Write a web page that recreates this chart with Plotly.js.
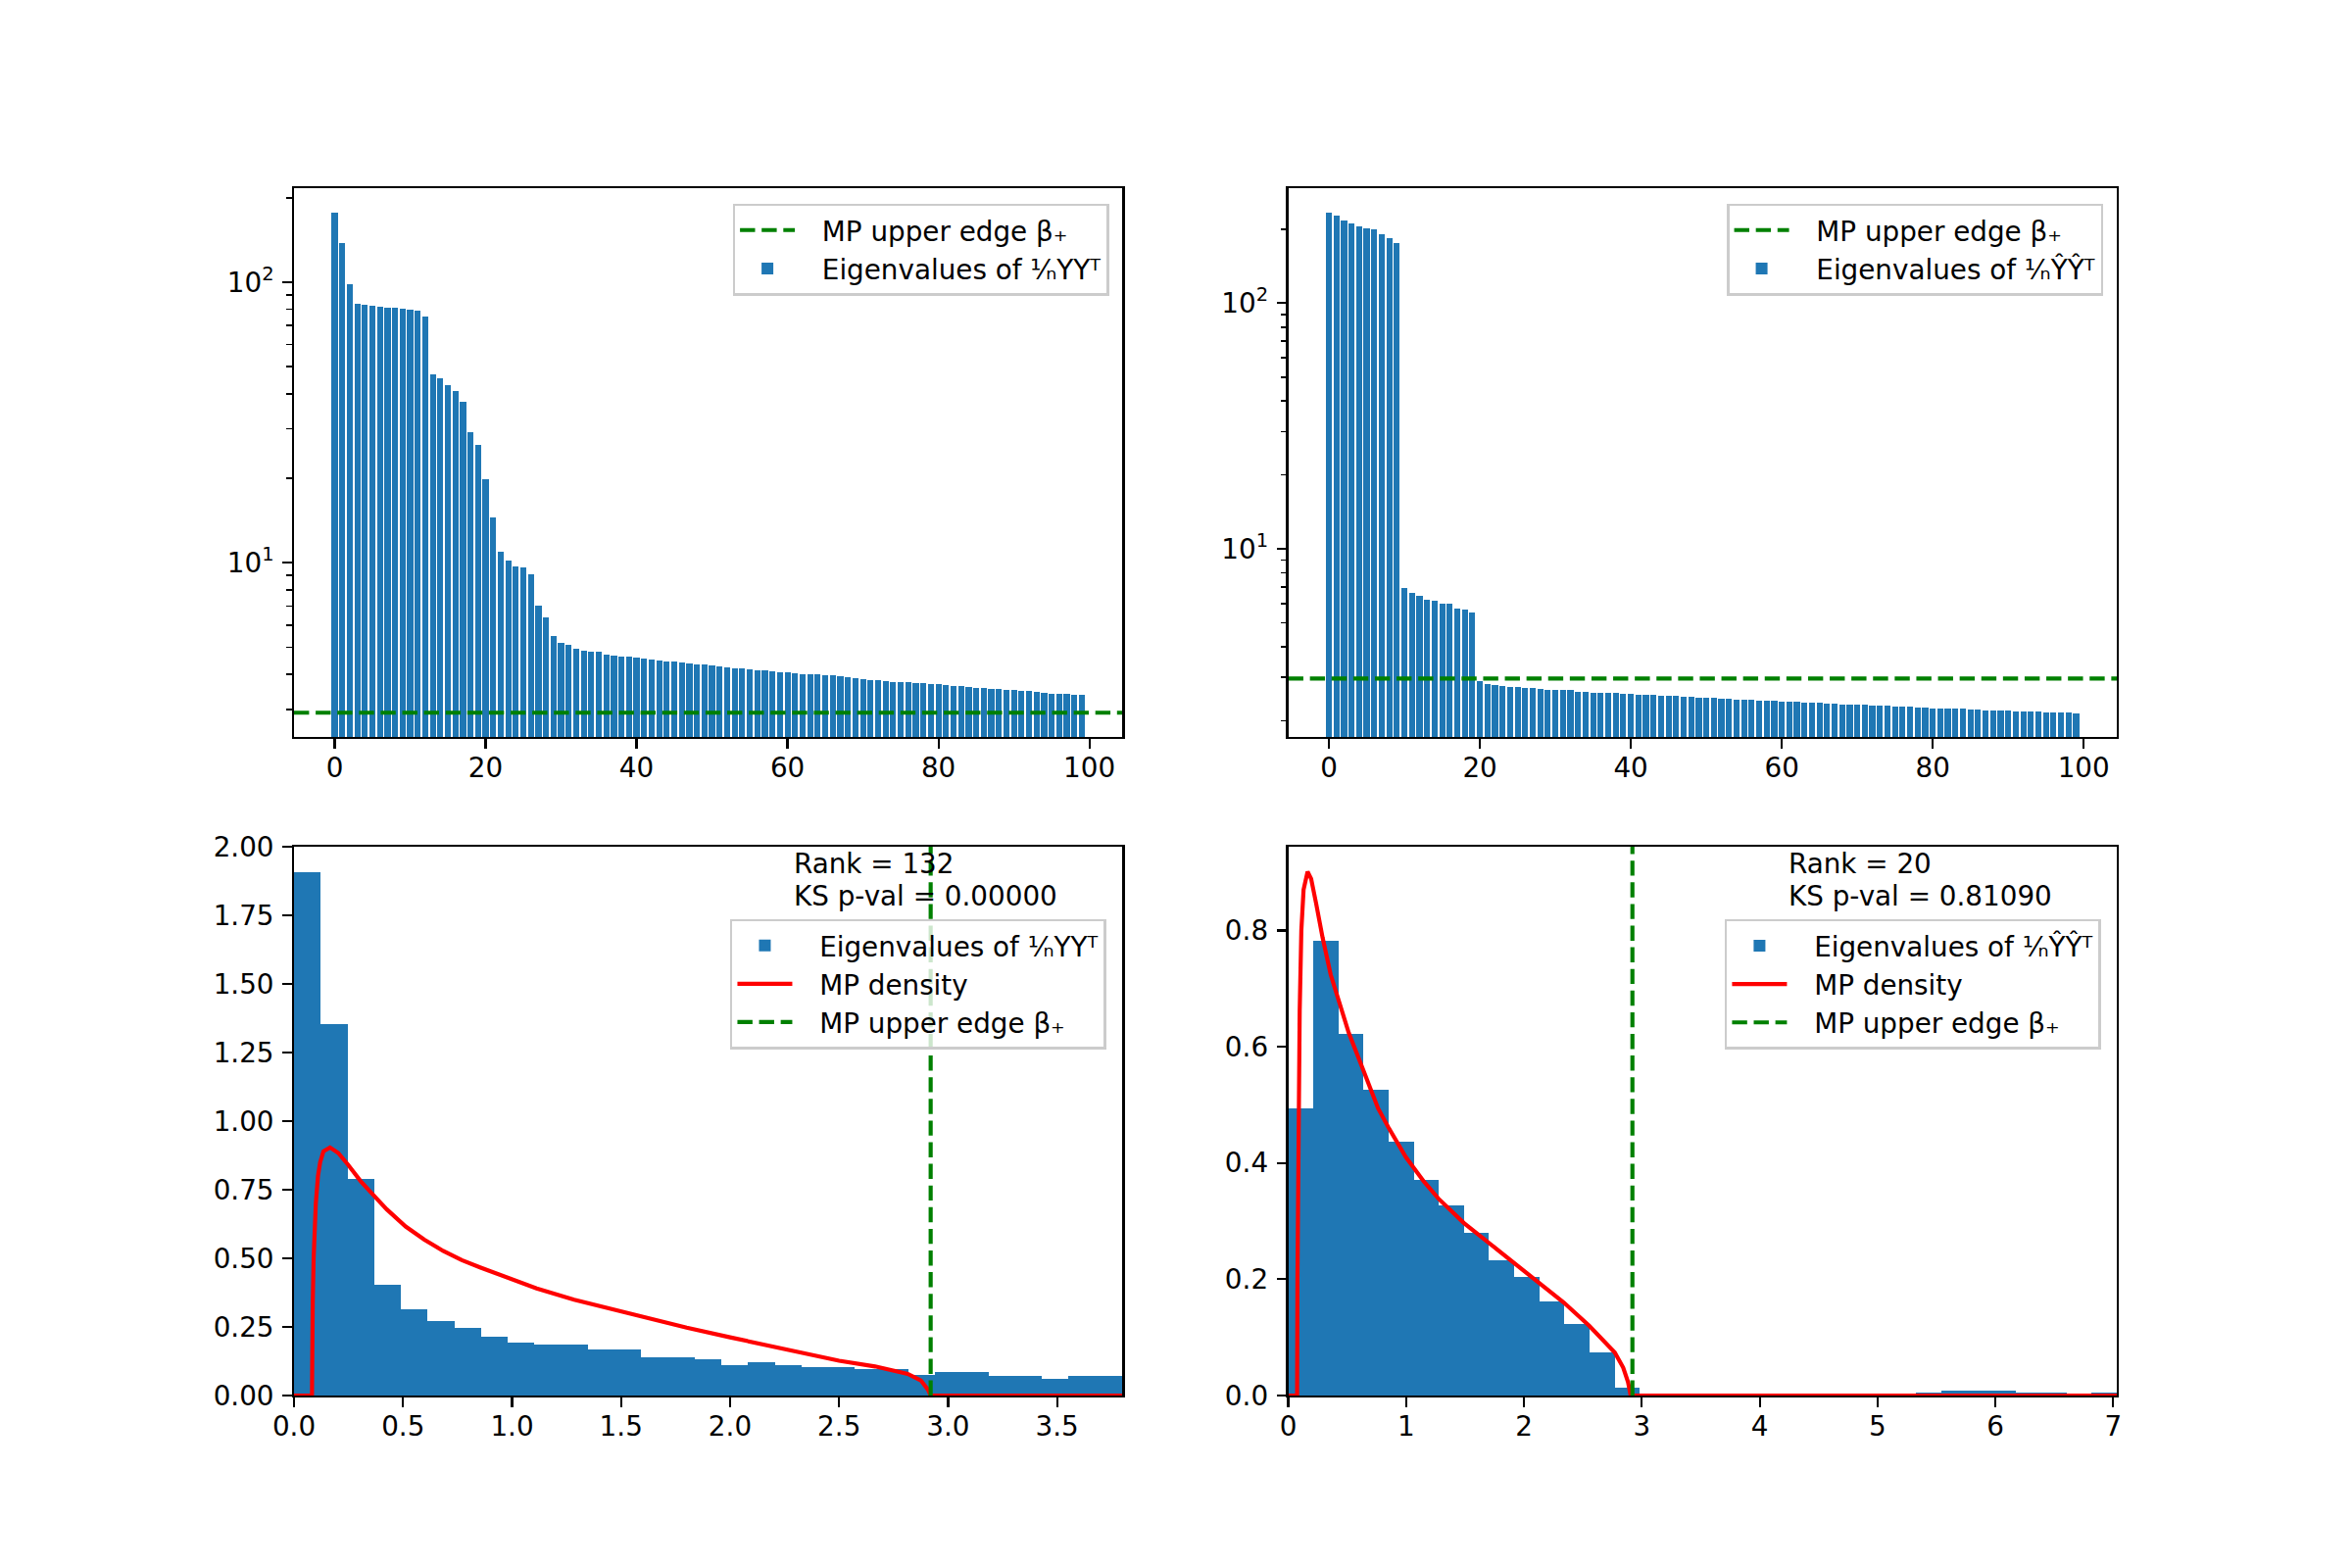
<!DOCTYPE html>
<html>
<head>
<meta charset="utf-8">
<script src="https://cdn.plot.ly/plotly-3.0.1.min.js"></script>
<style>
  html, body { margin: 0; padding: 0; background: #fff; }
  #chart { width: 2400px; height: 1600px; }
</style>
</head>
<body>
<div id="chart"></div>
<script>
// Eigenvalue spectra (top row, sorted, log scale)
const EIG_Y = [176.6, 137.5, 98.2, 83.6, 82.9, 82.1, 81.6, 80.9, 80.9, 80.2,
  79.5, 79.0, 75.2, 46.8, 45.4, 42.9, 40.8, 37.4, 29.3, 26.2,
  19.8, 14.5, 10.9, 10.2, 9.69, 9.61, 9.08, 7.06, 6.38, 5.47,
  5.17, 5.10, 4.94, 4.86, 4.82, 4.82, 4.71, 4.67, 4.63, 4.63,
  4.59, 4.56, 4.52, 4.48, 4.45, 4.45, 4.41, 4.38, 4.34, 4.34,
  4.31, 4.27, 4.24, 4.20, 4.20, 4.17, 4.14, 4.14, 4.10, 4.07,
  4.07, 4.04, 4.01, 4.01, 4.01, 3.98, 3.98, 3.94, 3.91, 3.88,
  3.85, 3.82, 3.82, 3.79, 3.76, 3.76, 3.76, 3.73, 3.73, 3.70,
  3.70, 3.67, 3.64, 3.64, 3.61, 3.58, 3.58, 3.55, 3.55, 3.52,
  3.52, 3.49, 3.49, 3.47, 3.44, 3.41, 3.41, 3.41, 3.38, 3.38];

const EIG_YHAT = [233.4, 226.3, 216.8, 210.4, 204.8, 201.4, 199.4, 190.2, 183.3, 174.9,
  6.92, 6.60, 6.42, 6.19, 6.13, 5.98, 5.98, 5.70, 5.66, 5.50,
  2.89, 2.83, 2.80, 2.78, 2.75, 2.75, 2.73, 2.73, 2.70, 2.68,
  2.66, 2.66, 2.66, 2.63, 2.63, 2.60, 2.60, 2.60, 2.60, 2.58,
  2.58, 2.56, 2.56, 2.56, 2.53, 2.53, 2.53, 2.51, 2.51, 2.49,
  2.49, 2.49, 2.46, 2.46, 2.44, 2.44, 2.44, 2.42, 2.42, 2.42,
  2.40, 2.40, 2.40, 2.37, 2.37, 2.37, 2.35, 2.35, 2.33, 2.33,
  2.33, 2.33, 2.31, 2.31, 2.31, 2.29, 2.29, 2.29, 2.27, 2.27,
  2.24, 2.24, 2.24, 2.24, 2.24, 2.22, 2.22, 2.20, 2.20, 2.20,
  2.20, 2.18, 2.18, 2.18, 2.18, 2.16, 2.16, 2.16, 2.16, 2.14];

const BETA_TOP_Y = 2.92;     // MP upper edge, left column
const BETA_TOP_YHAT = 2.97;  // MP upper edge, right column (top)
const BETA_HIST_Y = 2.92;
const BETA_HIST_YHAT = 2.92;

// Histograms (density) of the eigenvalues, bins starting at 0
const HIST_Y_W = 0.1225;
const HIST_Y = [1.907, 1.352, 0.789, 0.403, 0.314, 0.270, 0.245, 0.216, 0.192, 0.185,
  0.185, 0.167, 0.167, 0.138, 0.138, 0.132, 0.112, 0.121, 0.112, 0.103,
  0.103, 0.095, 0.095, 0.076, 0.087, 0.087, 0.070, 0.070, 0.059, 0.070, 0.070];

const HIST_YHAT_W = 0.213;
const HIST_YHAT = [0.494, 0.783, 0.622, 0.526, 0.437, 0.371, 0.327, 0.280, 0.232, 0.204,
  0.162, 0.123, 0.075, 0.0136, 0, 0, 0, 0, 0, 0,
  0, 0, 0, 0, 0, 0.0045, 0.0085, 0.0085, 0.0085, 0.0045,
  0.0045, 0, 0.0045];

// MP density curves
const MP_Y_X = [0, 0.0825, 0.086, 0.09, 0.10, 0.11, 0.12, 0.135, 0.165, 0.203,
  0.247, 0.306, 0.369, 0.426, 0.512, 0.598, 0.684, 0.770, 0.856, 1.0,
  1.113, 1.285, 1.5, 1.629, 1.801, 2.0, 2.144, 2.316, 2.5, 2.665,
  2.815, 2.875, 2.908, 2.92, 3.8];
const MP_Y_D = [0, 0, 0.34, 0.50, 0.70, 0.80, 0.85, 0.89, 0.904, 0.884,
  0.842, 0.781, 0.726, 0.678, 0.616, 0.568, 0.527, 0.493, 0.466, 0.425,
  0.390, 0.349, 0.305, 0.281, 0.247, 0.212, 0.189, 0.158, 0.127, 0.106,
  0.079, 0.055, 0.021, 0, 0];

const MP_YHAT_X = [0, 0.075, 0.078, 0.086, 0.097, 0.111, 0.130, 0.164, 0.194, 0.236,
  0.291, 0.360, 0.424, 0.513, 0.632, 0.762, 0.848, 0.998, 1.151, 1.273,
  1.489, 1.705, 1.913, 1.999, 2.129, 2.337, 2.553, 2.675, 2.770, 2.842,
  2.883, 2.905, 7.03];
const MP_YHAT_D = [0, 0, 0.20, 0.404, 0.662, 0.80, 0.87, 0.901, 0.889, 0.847,
  0.788, 0.724, 0.682, 0.624, 0.562, 0.494, 0.462, 0.410, 0.368, 0.339,
  0.297, 0.262, 0.228, 0.216, 0.194, 0.160, 0.120, 0.094, 0.074, 0.048,
  0.023, 0, 0];

const STATS_Y = ["Rank = 132", "KS p-val = 0.00000"];
const STATS_YHAT = ["Rank = 20", "KS p-val = 0.81090"];

// en space + nbsp keep the gap between legend handle and label
const GAP = "\u2002\u00A0";
const LBL_EIG_Y = GAP + "Eigenvalues of \u215F\u2099YY\u1D40";
const LBL_EIG_YHAT = GAP + "Eigenvalues of \u215F\u2099\u0176\u0176\u1D40";
const LBL_EDGE = GAP + "MP upper edge \u03B2\u208A";
const LBL_MP = GAP + "MP density";

// Axis ranges
const X_TOP = [-5.39, 104.39];
const Y_TOP_L = [0.379, 2.335];    // log10
const Y_TOP_R = [0.235, 2.468];    // log10
const X_BL = [0, 3.8];
const Y_BL = [0, 2.0];
const X_BR = [0, 7.03];
const Y_BR = [0, 0.944];

// Styling
const BLUE = "#1f77b4";
const FONT = "DejaVu Sans";
const FS = 27.8;
const DASH = "15.4px,6.7px";
const LW = 4.17;

const idx = arr => arr.map((_, i) => i);
const edges = (arr, w) => arr.map((_, i) => i * w);

const traces = [
  // top left
  { type: "scatter", mode: "lines", x: X_TOP, y: [BETA_TOP_Y, BETA_TOP_Y],
    line: { color: "green", width: LW, dash: DASH }, name: LBL_EDGE,
    xaxis: "x", yaxis: "y", legend: "legend" },
  { type: "bar", x: idx(EIG_Y), y: EIG_Y, width: 0.8,
    marker: { color: BLUE, line: { width: 0 } }, name: LBL_EIG_Y,
    xaxis: "x", yaxis: "y", legend: "legend" },
  // top right
  { type: "scatter", mode: "lines", x: X_TOP, y: [BETA_TOP_YHAT, BETA_TOP_YHAT],
    line: { color: "green", width: LW, dash: DASH }, name: LBL_EDGE,
    xaxis: "x2", yaxis: "y2", legend: "legend2" },
  { type: "bar", x: idx(EIG_YHAT), y: EIG_YHAT, width: 0.8,
    marker: { color: BLUE, line: { width: 0 } }, name: LBL_EIG_YHAT,
    xaxis: "x2", yaxis: "y2", legend: "legend2" },
  // bottom left
  { type: "bar", x: edges(HIST_Y, HIST_Y_W), y: HIST_Y, width: HIST_Y_W, offset: 0,
    marker: { color: BLUE, line: { width: 0 } }, name: LBL_EIG_Y,
    xaxis: "x3", yaxis: "y3", legend: "legend3" },
  { type: "scatter", mode: "lines", x: MP_Y_X, y: MP_Y_D,
    line: { color: "red", width: LW }, name: LBL_MP,
    xaxis: "x3", yaxis: "y3", legend: "legend3" },
  { type: "scatter", mode: "lines", x: [BETA_HIST_Y, BETA_HIST_Y], y: Y_BL,
    line: { color: "green", width: LW, dash: DASH }, name: LBL_EDGE,
    xaxis: "x3", yaxis: "y3", legend: "legend3" },
  // bottom right
  { type: "bar", x: edges(HIST_YHAT, HIST_YHAT_W), y: HIST_YHAT, width: HIST_YHAT_W, offset: 0,
    marker: { color: BLUE, line: { width: 0 } }, name: LBL_EIG_YHAT,
    xaxis: "x4", yaxis: "y4", legend: "legend4" },
  { type: "scatter", mode: "lines", x: MP_YHAT_X, y: MP_YHAT_D,
    line: { color: "red", width: LW }, name: LBL_MP,
    xaxis: "x4", yaxis: "y4", legend: "legend4" },
  { type: "scatter", mode: "lines", x: [BETA_HIST_YHAT, BETA_HIST_YHAT], y: Y_BR,
    line: { color: "green", width: LW, dash: DASH }, name: LBL_EDGE,
    xaxis: "x4", yaxis: "y4", legend: "legend4" },
];

function axis(extra) {
  return Object.assign({
    showline: true, mirror: true, linecolor: "black", linewidth: 2.2,
    ticks: "outside", ticklen: 9.7, tickwidth: 2.2, tickcolor: "black",
    showgrid: false, zeroline: false,
    tickfont: { family: FONT, size: FS, color: "black" },
    fixedrange: true,
  }, extra);
}

const minorLog = vals => ({ ticks: "outside", ticklen: 5.6, tickwidth: 1.67,
  tickcolor: "black", tickmode: "array", tickvals: vals, showgrid: false });

const DOM_L = [0.125, 0.47727];
const DOM_R = [0.54773, 0.9];
const DOM_T = [0.53, 0.88];
const DOM_B = [0.11, 0.46];
const XSTAND = -4;
const YSTAND = 3;

function legendAt(x, y) {
  return {
    x: x, y: y, xanchor: "right", yanchor: "top",
    bgcolor: "rgba(255,255,255,0.8)", bordercolor: "#cccccc", borderwidth: 2.5,
    font: { family: FONT, size: FS, color: "black" },
    itemwidth: 56, tracegroupgap: 0, traceorder: "normal",
  };
}

function statAnn(x, lines) {
  return lines.map((t, i) => ({
    xref: "paper", yref: "paper", x: x, y: i === 0 ? 0.44894 : 0.42863,
    xanchor: "left", yanchor: "middle", showarrow: false, text: t,
    font: { family: FONT, size: FS, color: "black" },
  }));
}

const layout = {
  width: 2400, height: 1600,
  margin: { l: 0, r: 0, t: 0, b: 0 },
  paper_bgcolor: "white", plot_bgcolor: "white",
  font: { family: FONT, size: FS, color: "black" },
  hovermode: false, showlegend: true,
  bargap: 0,
  xaxis: axis({ domain: DOM_L, anchor: "y", range: X_TOP, tickmode: "array",
    tickvals: [0, 20, 40, 60, 80, 100], ticklabelstandoff: XSTAND }),
  yaxis: axis({ domain: DOM_T, anchor: "x", type: "log", range: Y_TOP_L,
    tickmode: "array", tickvals: [10, 100], ticktext: ["10<sup>1</sup>", "10<sup>2</sup>"],
    ticklabelstandoff: YSTAND,
    minor: minorLog([3, 4, 5, 6, 7, 8, 9, 20, 30, 40, 50, 60, 70, 80, 90, 200]) }),
  xaxis2: axis({ domain: DOM_R, anchor: "y2", range: X_TOP, tickmode: "array",
    tickvals: [0, 20, 40, 60, 80, 100], ticklabelstandoff: XSTAND }),
  yaxis2: axis({ domain: DOM_T, anchor: "x2", type: "log", range: Y_TOP_R,
    tickmode: "array", tickvals: [10, 100], ticktext: ["10<sup>1</sup>", "10<sup>2</sup>"],
    ticklabelstandoff: YSTAND,
    minor: minorLog([2, 3, 4, 5, 6, 7, 8, 9, 20, 30, 40, 50, 60, 70, 80, 90, 200]) }),
  xaxis3: axis({ domain: DOM_L, anchor: "y3", range: X_BL, dtick: 0.5, tick0: 0,
    tickformat: ".1f", ticklabelstandoff: XSTAND }),
  yaxis3: axis({ domain: DOM_B, anchor: "x3", range: Y_BL, dtick: 0.25, tick0: 0,
    tickformat: ".2f", ticklabelstandoff: YSTAND }),
  xaxis4: axis({ domain: DOM_R, anchor: "y4", range: X_BR, dtick: 1, tick0: 0,
    tickformat: "d", ticklabelstandoff: XSTAND }),
  yaxis4: axis({ domain: DOM_B, anchor: "x4", range: Y_BR, dtick: 0.2, tick0: 0,
    tickformat: ".1f", ticklabelstandoff: YSTAND }),
  legend: legendAt(0.4715, 0.8702),
  legend2: legendAt(0.8942, 0.8702),
  legend3: legendAt(0.4704, 0.414),
  legend4: legendAt(0.8933, 0.4138),
  annotations: [...statAnn(0.3367, STATS_Y), ...statAnn(0.7595, STATS_YHAT)],
};

Plotly.newPlot("chart", traces, layout, { displayModeBar: false, staticPlot: true });
</script>
</body>
</html>
